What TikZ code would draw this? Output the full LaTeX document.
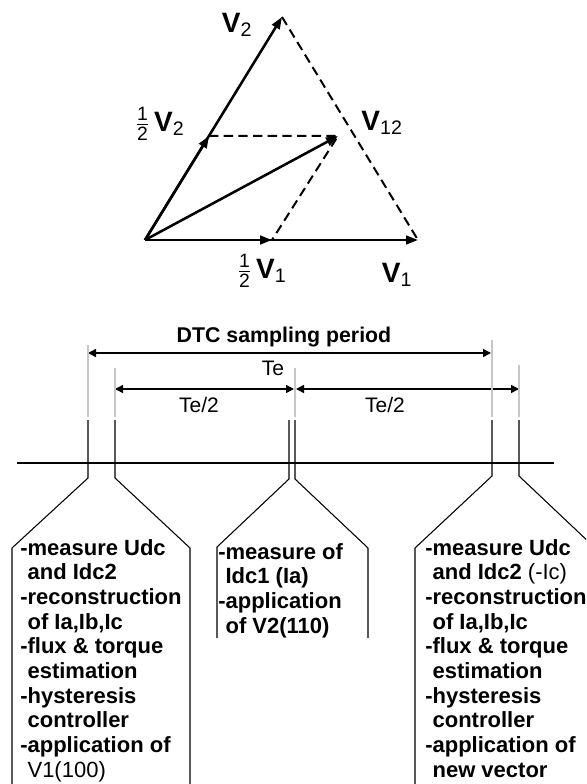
\documentclass[tikz,border=0pt]{standalone}
\usepackage{fontspec}
\setmainfont{Liberation Sans}
\usetikzlibrary{arrows.meta}
\newcommand{\halfof}{$\frac{\mbox{\fontsize{14.5}{14.5}\selectfont\mdseries 1}}{\mbox{\fontsize{14.5}{14.5}\selectfont\mdseries 2}}$\,}
\newcommand{\ind}{\phantom{-}}
\tikzset{
  vec/.style={line width=1.9pt,-{Triangle[length=9pt,width=6.5pt]}},
  aux/.style={line width=1.5pt,dash pattern=on 7pt off 4pt},
  dim/.style={line width=1.1pt,{Triangle[length=6pt,width=6pt]}-{Triangle[length=6pt,width=6pt]}},
  guide/.style={black!22,line width=0.8pt},
  tick/.style={line width=0.8pt},
  vlabel/.style={font=\fontsize{21}{23}\selectfont\bfseries,inner sep=0pt},
  plain/.style={font=\fontsize{15.75}{18}\selectfont,inner sep=0pt},
  boxtext/.style={font=\fontsize{16.5}{18.5}\selectfont\bfseries,align=left,anchor=north west,inner sep=0pt}
}
\begin{document}
\begin{tikzpicture}[x=0.75pt,y=-0.75pt]
  \useasboundingbox (0,0) rectangle (586,784);
  \clip (0,0) rectangle (586,784);
  \coordinate (O) at (145,240); \coordinate (V1) at (418,240);
  \coordinate (V2) at (282,17); \coordinate (H1) at (272,240);
  \coordinate (H2) at (209,136); \coordinate (V12) at (338,136);
  \draw[aux] (V2)--(V1);
  \draw[aux] (H2)--(V12)--(H1);
  \draw[vec] (O)--(V1);
  \draw[vec] (O)--(H1);
  \draw[vec] (O)--(V2);
  \draw[vec] (O)--(H2);
  \draw[vec] (O)--(V12);
  \node[vlabel] (lV2) at (237,25) {V\textsubscript{\mdseries 2}};
  \node[vlabel] (lH2) at (160,124) {\halfof V\textsubscript{\mdseries 2}};
  \node[vlabel] (lV12) at (382,123) {V\textsubscript{\mdseries 12}};
  \node[vlabel] (lH1) at (262,271) {\halfof V\textsubscript{\mdseries 1}};
  \node[vlabel] (lV1) at (397,275) {V\textsubscript{\mdseries 1}};

  \node[plain,font=\fontsize{16}{18}\selectfont\bfseries] (title) at (284,337) {DTC sampling period};
  \coordinate (t0) at (88,353); \coordinate (t1) at (491,353);
  \coordinate (h0) at (115,389); \coordinate (h1) at (294,389);
  \coordinate (h2) at (296,389); \coordinate (h3) at (519,389);
  \draw[dim] (t0)--(t1);
  \draw[dim] (h0)--(h1);
  \draw[dim] (h2)--(h3);
  \node[plain] (te) at (273,368) {Te};
  \node[plain] (teA) at (199,405) {Te/2};
  \node[plain] (teB) at (385,405) {Te/2};
  \foreach \x/\y in {88/345,115/368,295/368,492/340,519/365}
    \draw[guide] (\x,\y)--(\x,417);
  \draw[tick] (17,463)--(554,463);
  \draw[tick] (88,420)--(88,478)--(12,548)--(12,784);
  \draw[tick] (115,420)--(115,478)--(190,548)--(190,784);
  \draw[tick] (289,420)--(289,479)--(217,547)--(217,638);
  \draw[tick] (295,420)--(295,479)--(368,548)--(368,638);
  \draw[tick] (492,420)--(492,476)--(415,548)--(415,784);
  \draw[tick] (519,420)--(519,476)--(592,545);

  \node[boxtext] (boxA) at (20,539) {-measure Udc\\ \ind and Idc2\\-reconstruction\\ \ind of Ia,Ib,Ic\\-flux \& torque\\ \ind estimation\\-hysteresis\\ \ind controller\\-application of\\ \ind{\mdseries V1(100)}};
  \node[boxtext] (boxB) at (218,543) {-measure of\\ \ind Idc1 (Ia)\\-application\\ \ind of V2(110)};
  \node[boxtext] (boxC) at (425,539) {-measure Udc\\ \ind and Idc2 {\mdseries(-Ic)}\\-reconstruction\\ \ind of Ia,Ib,Ic\\-flux \& torque\\ \ind estimation\\-hysteresis\\ \ind controller\\-application of\\ \ind new vector};
\end{tikzpicture}
\end{document}
